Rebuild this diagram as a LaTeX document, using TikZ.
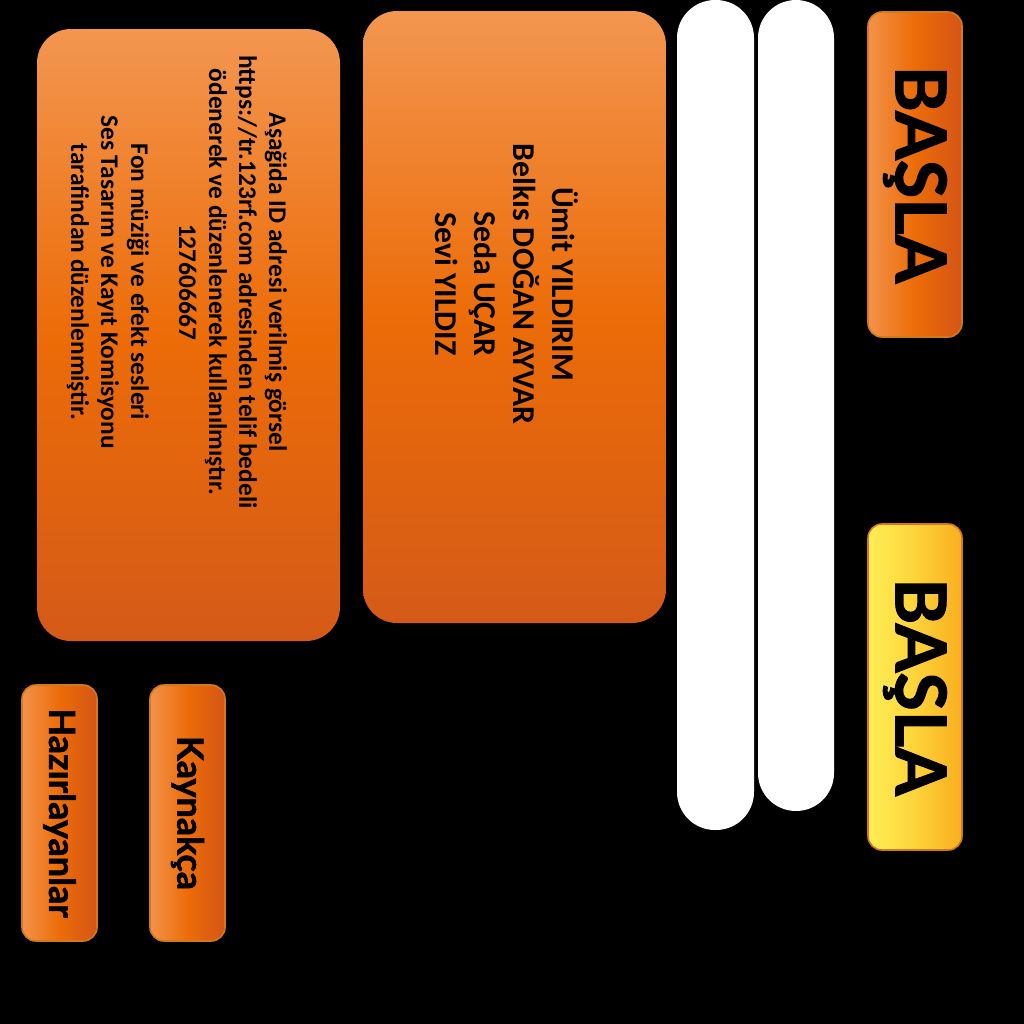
\documentclass[tikz,border=0pt]{standalone}
\usepackage{fontspec}
\setmainfont{Carlito}
\newfontfamily\btnfont[FakeBold=1.5]{Lato}
\definecolor{panelhi}{HTML}{F39650}
\definecolor{panelmid}{HTML}{EC6C08}
\definecolor{panello}{HTML}{D55A18}
\definecolor{btnhi}{HTML}{F39249}
\definecolor{btnmid}{HTML}{EC6C08}
\definecolor{btnlo}{HTML}{D45516}
\definecolor{yelhi}{HTML}{FFEE55}
\definecolor{yelmid}{HTML}{FDD33A}
\definecolor{yello}{HTML}{F9AE1E}
\definecolor{btnedge}{HTML}{D07A1C}
\tikzset{panel/.style={rounded corners=17pt, top color=panelhi, bottom color=panello, middle color=panelmid,
           minimum width=151.5pt, minimum height=306pt, inner sep=0pt},
         paneltext/.style={rotate=-90, align=center, text=black, inner sep=0pt},
         button/.style={rounded corners=7pt, draw=btnedge, line width=0.8pt, left color=btnhi, right color=btnlo,
           middle color=btnmid, inner sep=0pt, text=black, font=\btnfont\bfseries},
         yellowbutton/.style={button, left color=yelhi, right color=yello, middle color=yelmid},
         bar/.style={fill=white, rounded corners=19pt}}

\begin{document}
\begin{tikzpicture}[x=0.5pt,y=-0.5pt]
  \fill[black] (0,0) rectangle (1024,1024);
  \useasboundingbox (0,0) rectangle (1024,1024);

  \fill[bar] (677,0) rectangle (754,830);
  \fill[bar] (758,0) rectangle (834,811);

  \node[panel] (credits) at (188.5,335) {};
  \node[paneltext, font=\bfseries\fontsize{12.7}{15}\selectfont] (creditstext) at (177,282)
    {Aşağida ID adresi verilmiş görsel\\
     https://tr.123rf.com adresinden telif bedeli\\
     ödenerek ve düzenlenerek kullanılmıştır.\\
     127606667\\[9pt]
     Fon müziği ve efekt sesleri\\
     Ses Tasarım ve Kayıt Komisyonu\\
     tarafindan düzenlenmiştir.};

  \node[panel] (names) at (514.5,317) {};
  \node[paneltext, font=\bfseries\fontsize{15.9}{19.5}\selectfont] (namestext) at (507,284)
    {Ümit YILDIRIM\\
     Belkıs DOĞAN AYVAR\\
     Seda UÇAR\\
     Sevi YILDIZ};

  \node[button, minimum width=47pt, minimum height=162.5pt] (start) at (915,174.5)
    {\rotatebox{-90}{\fontsize{35}{35}\selectfont BAŞLA}};
  \node[yellowbutton, minimum width=47pt, minimum height=163pt] (startb) at (915,687)
    {\rotatebox{-90}{\fontsize{35}{35}\selectfont BAŞLA}};

  \node[button, minimum width=37.5pt, minimum height=128pt] (authors) at (59.5,813)
    {\rotatebox{-90}{\fontsize{18}{18}\selectfont Hazırlayanlar}};
  \node[button, minimum width=37.5pt, minimum height=128pt] (sources) at (187.5,813)
    {\rotatebox{-90}{\fontsize{18}{18}\selectfont Kaynakça}};
\end{tikzpicture}
\end{document}
